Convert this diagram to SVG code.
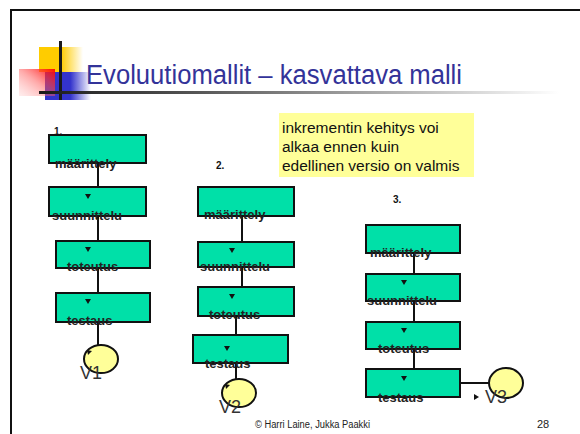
<svg xmlns="http://www.w3.org/2000/svg" width="580" height="434" viewBox="0 0 580 434">
<style>
.box{fill:#00e0a8;stroke:#111;stroke-width:2}
.ver{fill:#ffff99;stroke:#111;stroke-width:2}
.lbl{font-family:"Liberation Sans",Arial,sans-serif;font-weight:bold;font-size:13px;fill:#222}
.num{font-family:"Liberation Sans",Arial,sans-serif;font-weight:bold;font-size:10px;fill:#111}
.v{font-family:"Liberation Sans",Arial,sans-serif;font-size:18px;fill:#333}
.note{font-family:"Liberation Sans",Arial,sans-serif;font-size:15.5px;fill:#111}
.con line{stroke:#111;stroke-width:2}
.tri{fill:#111}
</style>
<defs>
<linearGradient id="gy" x1="0" x2="1" y1="0" y2="0"><stop offset="0.5" stop-color="#ffcc00"/><stop offset="1" stop-color="#ffcc00" stop-opacity="0"/></linearGradient>
<linearGradient id="gb" x1="0" x2="1" y1="0" y2="0"><stop offset="0.55" stop-color="#3333cc"/><stop offset="1" stop-color="#3333cc" stop-opacity="0"/></linearGradient>
<linearGradient id="gr" x1="1" x2="0" y1="0" y2="1"><stop offset="0" stop-color="#ff0000" stop-opacity="0.95"/><stop offset="0.5" stop-color="#ff5555" stop-opacity="0.5"/><stop offset="1" stop-color="#ffaaaa" stop-opacity="0.2"/></linearGradient>
<linearGradient id="gl" x1="0" x2="1" y1="0" y2="0"><stop offset="0" stop-color="#1a1a1a"/><stop offset="0.3" stop-color="#555"/><stop offset="1" stop-color="#fff"/></linearGradient>
</defs>
<rect width="580" height="434" fill="#fff"/>
<path d="M11,434 V10 H580" fill="none" stroke="#111" stroke-width="2"/>
<g id="logo">
<rect x="39" y="47" width="44" height="25" fill="url(#gy)"/>
<rect x="45" y="72" width="46" height="28" fill="url(#gb)"/>
<rect x="19" y="69" width="36" height="27" fill="url(#gr)"/>
<rect x="59" y="41" width="3" height="59" fill="#1a1a1a"/>
<rect x="39" y="91" width="520" height="3" fill="url(#gl)"/>
</g>
<text id="title" x="86" y="84" font-family="'Liberation Sans',Arial,sans-serif" font-size="27" fill="#333399" textLength="376" lengthAdjust="spacingAndGlyphs">Evoluutiomallit – kasvattava malli</text>
<g id="note">
<rect x="279" y="113" width="195" height="64" fill="#ffff99"/>
<text class="note" x="282" y="133">inkrementin kehitys voi</text>
<text class="note" x="282" y="152">alkaa ennen kuin</text>
<text class="note" x="282" y="171">edellinen versio on valmis</text>
</g>
<g class="con" id="connectors">
<line x1="98" y1="163" x2="98" y2="187"/>
<line x1="98" y1="216" x2="98" y2="241"/>
<line x1="98" y1="268" x2="98" y2="293"/>
<line x1="98" y1="322" x2="98" y2="345"/>
<line x1="242" y1="216" x2="242" y2="242"/>
<line x1="242" y1="267" x2="242" y2="287"/>
<line x1="236" y1="316" x2="236" y2="335"/>
<line x1="236" y1="363" x2="236" y2="379"/>
<line x1="414" y1="253" x2="414" y2="274"/>
<line x1="414" y1="301" x2="414" y2="322"/>
<line x1="414" y1="349" x2="414" y2="369"/>
<line x1="460" y1="383" x2="489" y2="383"/>
</g>
<g id="col1">
<text class="num" x="54" y="135">1.</text>
<g id="c1-maarittely"><rect class="box" x="49" y="135" width="97" height="28"/><text class="lbl" x="55" y="168">määrittely</text></g>
<g id="c1-suunnittelu"><rect class="box" x="49" y="187" width="97" height="29"/><polygon class="tri" points="85,194 91,194 88,199"/><text class="lbl" x="52" y="220">suunnittelu</text></g>
<g id="c1-toteutus"><rect class="box" x="56" y="241" width="94" height="27"/><polygon class="tri" points="85,247 91,247 88,252"/><text class="lbl" x="67" y="271">toteutus</text></g>
<g id="c1-testaus"><rect class="box" x="56" y="293" width="94" height="29"/><polygon class="tri" points="85,299 91,299 88,304"/><text class="lbl" x="67" y="325">testaus</text></g>
<g id="v1"><ellipse class="ver" cx="101" cy="359" rx="17" ry="14"/><polygon class="tri" points="87,350 92,351 88,355"/><text class="v" x="80" y="379">V1</text></g>
</g>
<g id="col2">
<text class="num" x="216" y="169">2.</text>
<g id="c2-maarittely"><rect class="box" x="198" y="187" width="96" height="29"/><text class="lbl" x="204" y="219">määrittely</text></g>
<g id="c2-suunnittelu"><rect class="box" x="198" y="242" width="96" height="25"/><polygon class="tri" points="229,248 235,248 232,253"/><text class="lbl" x="200" y="271">suunnittelu</text></g>
<g id="c2-toteutus"><rect class="box" x="198" y="287" width="96" height="29"/><polygon class="tri" points="229,294 235,294 232,299"/><text class="lbl" x="209" y="319">toteutus</text></g>
<g id="c2-testaus"><rect class="box" x="193" y="335" width="95" height="28"/><polygon class="tri" points="224,346 230,346 227,351"/><text class="lbl" x="205" y="368">testaus</text></g>
<g id="v2"><ellipse class="ver" cx="239" cy="393" rx="17" ry="14"/><polygon class="tri" points="225,384 230,385 226,389"/><text class="v" x="219" y="413">V2</text></g>
</g>
<g id="col3">
<text class="num" x="393" y="203">3.</text>
<g id="c3-maarittely"><rect class="box" x="366" y="225" width="94" height="28"/><text class="lbl" x="370" y="257">määrittely</text></g>
<g id="c3-suunnittelu"><rect class="box" x="366" y="274" width="94" height="27"/><polygon class="tri" points="401,280 407,280 404,285"/><text class="lbl" x="367" y="305">suunnittelu</text></g>
<g id="c3-toteutus"><rect class="box" x="366" y="322" width="94" height="27"/><polygon class="tri" points="401,328 407,328 404,333"/><text class="lbl" x="378" y="353">toteutus</text></g>
<g id="c3-testaus"><rect class="box" x="366" y="369" width="94" height="28"/><polygon class="tri" points="401,376 407,376 404,381"/><text class="lbl" x="378" y="402">testaus</text></g>
<g id="v3"><ellipse class="ver" cx="506" cy="383" rx="17" ry="15"/><polygon class="tri" points="474,394 479,397 474,400"/><text class="v" x="485" y="403">V3</text></g>
</g>
<g id="footer">
<text x="255" y="428" font-family="'Liberation Sans',Arial,sans-serif" font-size="10" fill="#222" textLength="115" lengthAdjust="spacingAndGlyphs">© Harri Laine, Jukka Paakki</text>
<text x="537" y="428" font-family="'Liberation Sans',Arial,sans-serif" font-size="11" fill="#222">28</text>
</g>
</svg>
